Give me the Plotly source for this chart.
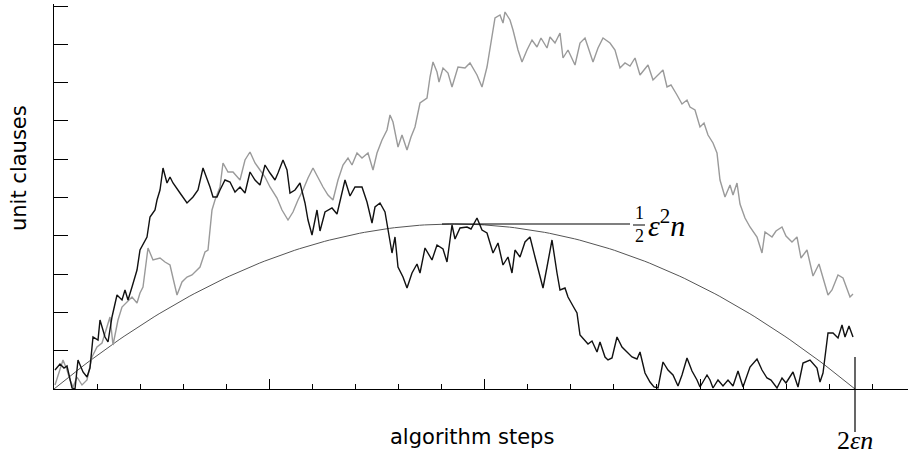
import plotly.graph_objects as go

# ---- data (x: algorithm steps, y: unit clauses) ----
black_steps = [1, 6, 10, 13, 18, 21, 24, 29, 33, 36, 39, 44, 46, 51, 54, 58, 63, 68, 71, 74, 78, 83, 86, 93, 96,
               101, 103, 106, 109, 113, 116, 119, 126, 133, 139, 144, 149, 152, 156, 159, 163, 166, 171, 176, 181,
               186, 191, 196, 201, 206, 211, 216, 221, 224, 229, 233, 236, 241, 246, 251, 254, 258, 263, 266, 271,
               278, 283, 291, 296, 301, 308, 313, 318, 321, 326, 331, 334, 338, 341, 344, 349, 353, 358, 363, 366,
               371, 378, 383, 389, 393, 398, 401, 406, 413, 417, 423, 428, 433, 436, 439, 444, 449, 454, 458, 461,
               466, 471, 476, 481, 486, 489, 493, 498, 503, 506, 511, 514, 519, 523, 526, 531, 534, 538, 543, 546,
               551, 554, 558, 563, 568, 573, 578, 583, 586, 591, 596, 600, 604, 609, 614, 619, 624, 628, 633, 638,
               643, 646, 651, 653, 656, 659, 664, 669, 674, 679, 684, 689, 696, 703, 708, 713, 717, 723, 728, 732,
               739, 744, 749, 756, 763, 766, 769, 772, 774, 779, 784, 788, 791, 795, 799]
black_clauses = [19, 25, 21, 23, 1, 0, 29, 17, 12, 21, 52, 49, 69, 52, 47, 72, 94, 89, 99, 89, 102, 119, 139, 152, 172,
                 179, 189, 199, 221, 206, 212, 206, 196, 186, 192, 199, 221, 213, 202, 192, 192, 199, 209, 207, 197,
                 202, 196, 217, 209, 204, 224, 216, 209, 216, 229, 219, 196, 199, 206, 186, 169, 154, 179, 158, 177,
                 181, 175, 209, 193, 202, 202, 187, 166, 182, 186, 177, 159, 136, 152, 122, 112, 101, 116, 125, 116,
                 141, 129, 144, 140, 127, 164, 150, 161, 162, 160, 171, 159, 156, 146, 136, 146, 124, 132, 116, 139,
                 132, 147, 152, 132, 112, 101, 122, 149, 116, 99, 101, 92, 83, 76, 54, 49, 45, 48, 37, 47,
                 32, 29, 31, 52, 42, 37, 32, 30, 37, 16, 7, 2, 1, 27, 19, 14, 3, 14, 31, 18,
                 9, 2, 10, 14, 9, 1, 9, 3, 9, 3, 18, 2, 22, 30, 19, 11, 9, 1, 11, 6,
                 17, 2, 26, 29, 21, 7, 16, 44, 56, 56, 51, 64, 52, 63, 52]

gray_steps = [1, 9, 13, 16, 19, 23, 28, 33, 38, 43, 48, 53, 56, 59, 64, 68, 73, 78, 83, 86, 89, 94, 99, 106, 111,
              116, 119, 123, 128, 133, 138, 143, 146, 151, 154, 158, 161, 166, 169, 174, 179, 186, 191, 196, 201,
              206, 211, 216, 223, 228, 234, 239, 244, 249, 254, 259, 264, 269, 274, 279, 284, 289, 294, 298, 303,
              308, 314, 319, 323, 328, 333, 336, 339, 344, 348, 353, 357, 361, 366, 373, 376, 379, 383, 385, 389,
              394, 398, 404, 411, 416, 423, 428, 433, 436, 441, 446, 449, 451, 456, 459, 464, 468, 473, 478, 483,
              487, 493, 496, 501, 506, 509, 514, 521, 526, 531, 534, 539, 544, 549, 556, 561, 566, 571, 576, 581,
              586, 591, 594, 599, 604, 609, 613, 617, 623, 628, 633, 636, 641, 646, 650, 654, 659, 663, 666, 671,
              676, 679, 683, 686, 691, 696, 703, 708, 711, 718, 722, 728, 732, 738, 743, 747, 753, 759, 765, 771,
              774, 778, 784, 789, 793, 796, 799]
gray_clauses = [4, 29, 19, 9, 2, 12, 4, 9, 32, 42, 46, 62, 72, 44, 69, 82, 87, 92, 86, 96, 102, 141, 129, 131, 127,
                124, 111, 94, 107, 112, 114, 119, 122, 137, 139, 179, 189, 202, 226, 217, 217, 209, 229, 237, 226,
                219, 212, 202, 191, 179, 169, 177, 189, 199, 211, 221, 211, 202, 194, 189, 209, 224, 231, 224, 236,
                231, 236, 219, 236, 249, 259, 274, 267, 242, 254, 239, 252, 262, 286, 291, 312, 327, 317, 307, 321,
                316, 302, 322, 321, 326, 314, 302, 322, 341, 371, 374, 366, 377, 369, 359, 339, 327, 339, 349, 342,
                351, 341, 352, 346, 356, 331, 339, 324, 346, 351, 342, 327, 341, 351, 346, 339, 321, 326, 323, 331,
                314, 321, 324, 309, 314, 319, 302, 304, 294, 285, 289, 282, 279, 262, 266, 254, 246, 236, 209, 192,
                204, 194, 206, 185, 171, 162, 152, 136, 157, 152, 158, 162, 153, 147, 152, 131, 139, 113, 125, 105,
                94, 99, 114, 111, 100, 92, 95]

# tick positions (no labels are shown in the chart)
y_ticks = [0, 38.3, 76.6, 114.9, 153.2, 191.5, 229.8, 268.1, 306.4, 344.7, 383.0]
x_major_ticks = [0, 215.35, 430.7, 646.05]
x_minor_step = 43.07

EPS2N = 801          # 2*eps*n : end of the critical window
HALF_EPS2N = 165     # (1/2) eps^2 n : height of the parabola's apex
PEAK_LINE_FROM = 388
PEAK_LINE_TO = 576

# theoretical parabola through (0,0), (eps n, 1/2 eps^2 n), (2 eps n, 0)
N_PTS = 161
par_x = [EPS2N * i / (N_PTS - 1) for i in range(N_PTS)]
par_y = [4 * HALF_EPS2N * (x / EPS2N) * (1 - x / EPS2N) for x in par_x]

fig = go.Figure()
fig.add_trace(go.Scatter(x=par_x, y=par_y, mode="lines",
                         line=dict(color="#555555", width=1), hoverinfo="skip"))
fig.add_trace(go.Scatter(x=gray_steps, y=gray_clauses, mode="lines",
                         line=dict(color="#9a9a9a", width=1.4)))
fig.add_trace(go.Scatter(x=black_steps, y=black_clauses, mode="lines",
                         line=dict(color="#111111", width=1.4)))
fig.add_trace(go.Scatter(x=[PEAK_LINE_FROM, PEAK_LINE_TO], y=[HALF_EPS2N, HALF_EPS2N], mode="lines",
                         line=dict(color="#000000", width=1.2), hoverinfo="skip"))

serif = "Liberation Serif, DejaVu Serif, serif"
# vertical marker at 2 eps n (crosses the x axis)
fig.add_shape(type="line", xref="x", yref="paper", x0=EPS2N, x1=EPS2N, y0=-0.112, y1=0.083,
              line=dict(color="black", width=1.2))
# fraction bar of 1/2
fig.add_shape(type="line", xref="x", yref="y", x0=PEAK_LINE_TO + 3, x1=PEAK_LINE_TO + 15,
              y0=HALF_EPS2N - 1, y1=HALF_EPS2N - 1, line=dict(color="black", width=1))

ann = [
    dict(text="1", x=PEAK_LINE_TO + 9, y=HALF_EPS2N, xref="x", yref="y", yshift=11,
         font=dict(family=serif, size=18, color="black")),
    dict(text="2", x=PEAK_LINE_TO + 9, y=HALF_EPS2N, xref="x", yref="y", yshift=-12,
         font=dict(family=serif, size=18, color="black")),
    dict(text="<i>ε</i><sup>2</sup><i>n</i>", x=PEAK_LINE_TO + 16, y=HALF_EPS2N, xref="x", yref="y",
         xanchor="left", yshift=1, font=dict(family=serif, size=30, color="black")),
    dict(text="2<i>εn</i>", x=EPS2N, y=-0.134, xref="x", yref="paper",
         font=dict(family=serif, size=26, color="black")),
    dict(text="algorithm steps", x=0.49, y=-0.125, xref="paper", yref="paper",
         font=dict(family="DejaVu Sans", size=21, color="black")),
    dict(text="unit clauses", x=-0.041, y=0.574, xref="paper", yref="paper", textangle=-90,
         font=dict(family="DejaVu Sans", size=21, color="black")),
]
for a in ann:
    a.update(showarrow=False, xanchor=a.get("xanchor", "center"), yanchor="middle")
fig.update_layout(annotations=ann)

fig.update_layout(
    width=910, height=458,
    margin=dict(l=54, r=2, t=4, b=69),
    paper_bgcolor="white", plot_bgcolor="white",
    showlegend=False,
    xaxis=dict(range=[0, 854], showgrid=False, zeroline=False, showline=True,
               linecolor="black", linewidth=1.3, ticks="inside", ticklen=10, tickwidth=1.2,
               tickcolor="black", tickmode="array", tickvals=x_major_ticks, showticklabels=False,
               minor=dict(ticks="inside", ticklen=5, tickwidth=1.2, tickcolor="black",
                          tickmode="linear", tick0=0, dtick=x_minor_step, showgrid=False)),
    yaxis=dict(range=[0, 385], showgrid=False, zeroline=False, showline=True,
               linecolor="black", linewidth=1.3, ticks="inside", ticklen=14, tickwidth=1.2,
               tickcolor="black", tickmode="array", tickvals=y_ticks, showticklabels=False),
)

fig.write_html("out.html", config={"displayModeBar": False},
               post_script="document.body.style.margin='0';document.body.style.overflow='hidden';")
